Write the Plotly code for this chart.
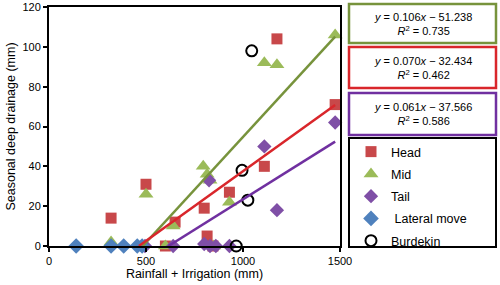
import plotly.graph_objects as go

# ---- data ----
head_x = [320, 500, 600, 650, 800, 815, 845, 930, 1110, 1175, 1475]
head_y = [14, 31, 0, 12, 19, 5, 0, 27, 40, 104, 71]

mid_x = [320, 500, 600, 640, 795, 815, 830, 850, 930, 1110, 1175, 1475]
mid_y = [2, 26, 0, 10, 40, 36, 33, 0, 22, 92, 91, 106]

tail_x = [495, 640, 800, 825, 830, 860, 930, 1110, 1175, 1475]
tail_y = [0, 0, 1, 33, 0, 0, 0, 50, 18, 62]

lateral_x = [140, 320, 385, 455, 480]
lateral_y = [0, 0, 0, 0, 0]

burd_x = [965, 995, 1025, 1045]
burd_y = [0, 38, 23, 98]

trend_names = ["Mid", "Head", "Tail"]
trend_slope = [0.106, 0.070, 0.061]
trend_intercept = [-51.238, -32.434, -37.566]
trend_r2 = [0.735, 0.462, 0.586]
trend_xmax = 1475

x_ticks = [0, 500, 1000, 1500]
y_ticks = [0, 20, 40, 60, 80, 100, 120]

# ---- styles ----
FONT = "Liberation Sans, Arial, sans-serif"
c_head = "#C8484A"
c_mid = "#9BBB59"
c_tail = "#7F4FA6"
c_lat = "#4F81BD"
line_cols = {"Mid": "#77933C", "Head": "#D9262B", "Tail": "#7030A0"}

fig = go.Figure()

series = [
    ("Head", head_x, head_y, dict(symbol="square", size=11, color=c_head)),
    ("Mid", mid_x, mid_y, dict(symbol="triangle-up", size=13, color=c_mid)),
    ("Tail", tail_x, tail_y, dict(symbol="diamond", size=11, color=c_tail)),
    (" Lateral move", lateral_x, lateral_y, dict(symbol="diamond", size=12, color=c_lat)),
    ("Burdekin", burd_x, burd_y, dict(symbol="circle-open", size=11, color="black",
                                     line=dict(width=2, color="black"))),
]
for i, (name, xs, ys, mk) in enumerate(series):
    fig.add_trace(go.Scatter(x=xs, y=ys, mode="markers", name=name, marker=mk,
                             cliponaxis=False, legendgroup=str(i)))

for name, m, b in zip(trend_names, trend_slope, trend_intercept):
    x0 = -b / m
    fig.add_trace(go.Scatter(x=[x0, trend_xmax], y=[m * x0 + b, m * trend_xmax + b],
                             mode="lines", line=dict(color=line_cols[name], width=2.5),
                             showlegend=False, hoverinfo="skip"))

# ---- layout geometry (plot area px 49..340, 7..246) ----
L, R, T, B = 49, 340, 7, 246
W, H = R - L, B - T


def px2x(px):
    return (px - L) / W


def px2y(py):
    return (B - py) / H


shapes = []
annotations = []
boxes = [(4, 43), (47, 88), (93, 135)]
for (y0, y1), name, m, b, r2 in zip(boxes, trend_names, trend_slope, trend_intercept, trend_r2):
    shapes.append(dict(type="rect", xref="paper", yref="paper",
                       x0=px2x(349), x1=px2x(496), y0=px2y(y1), y1=px2y(y0),
                       line=dict(color=line_cols[name], width=2.5)))
    annotations.append(dict(
        xref="paper", yref="paper", x=px2x(422.5), y=px2y((y0 + y1) / 2),
        xanchor="center", yanchor="middle", showarrow=False,
        text=f"<i>y</i> = {m:.3f}<i>x</i> \u2212 {abs(b):.3f}<br><i>R</i><sup>2</sup> = {r2:.3f}",
        font=dict(family=FONT, size=11, color="black")))
shapes.append(dict(type="rect", xref="paper", yref="paper",
                   x0=px2x(349), x1=px2x(496), y0=px2y(247), y1=px2y(138),
                   line=dict(color="black", width=2)))

fig.update_layout(
    width=500, height=285,
    margin=dict(l=L, r=500 - R, t=T, b=285 - B, autoexpand=False),
    paper_bgcolor="white", plot_bgcolor="white",
    font=dict(family=FONT, size=11, color="black"),
    showlegend=True,
    legend=dict(x=px2x(351), y=px2y(137), xanchor="left", yanchor="top",
                bgcolor="rgba(0,0,0,0)", borderwidth=0,
                font=dict(family=FONT, size=12.5), tracegroupgap=3,
                itemwidth=30),
    shapes=shapes, annotations=annotations,
    xaxis=dict(range=[0, 1500], tickvals=x_ticks, ticks="outside", ticklen=4,
               tickwidth=1.5, tickcolor="black", showline=True, linewidth=2,
               linecolor="black", mirror=True, showgrid=False, zeroline=False,
               title=dict(text="Rainfall + Irrigation (mm)", font=dict(size=12.5), standoff=2),
               tickfont=dict(size=11)),
    yaxis=dict(range=[0, 120], tickvals=y_ticks, ticks="outside", ticklen=4,
               tickwidth=1.5, tickcolor="black", showline=True, linewidth=2,
               linecolor="black", mirror=True, showgrid=False, zeroline=False,
               title=dict(text="Seasonal deep drainage (mm)", font=dict(size=12.5), standoff=4),
               tickfont=dict(size=11)),
)

fig.write_html("out.html", config={"displayModeBar": False},
               post_script="document.body.style.margin='0';")
